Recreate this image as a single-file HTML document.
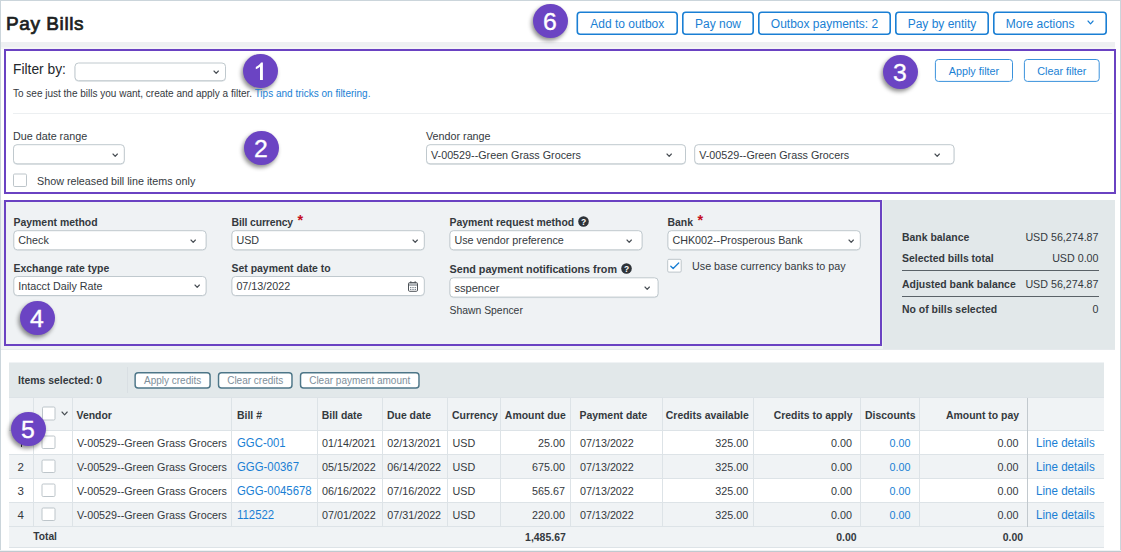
<!DOCTYPE html>
<html><head><meta charset="utf-8"><title>Pay Bills</title><style>
html,body{margin:0;padding:0;background:#fff}
body{width:1121px;height:552px;position:relative;overflow:hidden;font-family:"Liberation Sans", sans-serif}
.a,.t,.circ{position:absolute;box-sizing:content-box}
.t{white-space:nowrap}
.circ{width:35px;height:34.5px;border-radius:50%;background:#6b44c3;color:#fff;font-size:24.8px;line-height:35.8px;text-indent:-1px;-webkit-text-stroke:0.35px #fff;text-align:center;box-shadow:-1.5px 2.5px 4.5px rgba(0,0,0,.45)}
</style></head>
<body>
<div class="a" style="left:0px;top:0px;width:1121px;height:1px;background:#cbd5db;"></div>
<div class="a" style="left:0px;top:0px;width:1px;height:552px;background:#cbd5db;"></div>
<div class="a" style="left:1119.5px;top:0px;width:1.5px;height:552px;background:#cbd5db;"></div>
<div class="a" style="left:0px;top:550px;width:1121px;height:1px;background:#eef1f3;"></div>
<div class="a" style="left:0px;top:551px;width:1121px;height:1px;background:#bfc9cf;"></div>
<div class="t" style="top:9.92px;font-size:19px;line-height:27px;color:#1c1f22;letter-spacing:0.58px;left:6px;-webkit-text-stroke:0.72px #1c1f22;">Pay Bills</div>
<div class="a" style="left:1px;top:42px;width:1114px;height:5px;background:#eef0f2;"></div>
<div class="a" style="left:1px;top:47px;width:1114px;height:2px;background:#f4f5f6;"></div>
<svg class="a" style="left:575px;top:10px" width="104" height="26"><rect x="2.30" y="2.30" width="99.90" height="21.90" rx="3" fill="#fff" stroke="#1a7fd4" stroke-width="1.6" /></svg>
<div class="t" style="top:15.81px;font-size:12px;line-height:17px;color:#1a7fd4;left:527.25px;width:200px;text-align:center;">Add to outbox</div>
<svg class="a" style="left:681px;top:10px" width="74" height="26"><rect x="1.80" y="2.30" width="70.40" height="21.90" rx="3" fill="#fff" stroke="#1a7fd4" stroke-width="1.6" /></svg>
<div class="t" style="top:15.81px;font-size:12px;line-height:17px;color:#1a7fd4;left:618.0px;width:200px;text-align:center;">Pay now</div>
<svg class="a" style="left:757px;top:10px" width="135" height="26"><rect x="1.80" y="2.30" width="131.40" height="21.90" rx="3" fill="#fff" stroke="#1a7fd4" stroke-width="1.6" /></svg>
<div class="t" style="top:15.81px;font-size:12px;line-height:17px;color:#1a7fd4;left:724.5px;width:200px;text-align:center;">Outbox payments: 2</div>
<svg class="a" style="left:894px;top:10px" width="96" height="26"><rect x="1.80" y="2.30" width="92.40" height="21.90" rx="3" fill="#fff" stroke="#1a7fd4" stroke-width="1.6" /></svg>
<div class="t" style="top:15.81px;font-size:12px;line-height:17px;color:#1a7fd4;left:842.0px;width:200px;text-align:center;">Pay by entity</div>
<svg class="a" style="left:992px;top:10px" width="116" height="26"><rect x="1.80" y="2.30" width="112.40" height="21.90" rx="3" fill="#fff" stroke="#1a7fd4" stroke-width="1.6" /></svg>
<div class="t" style="top:15.81px;font-size:12px;line-height:17px;color:#1a7fd4;left:940.2px;width:200px;text-align:center;">More actions</div>
<svg class="a" style="left:1086.85px;top:20.45px" width="7.1" height="4.8" viewBox="-1 -1 7.1 4.8"><path d="M0 0 L2.55 2.8 L5.1 0" fill="none" stroke="#1a7fd4" stroke-width="1.15" stroke-linecap="round" stroke-linejoin="round"/></svg>
<div class="circ" style="left:533.0px;top:3.5px">6</div>
<div class="a" style="left:4px;top:49px;width:1108px;height:141px;border:2px solid #6a42c2;background:#fff"></div>
<div class="t" style="top:60.22px;font-size:13.8px;line-height:19px;color:#24282c;left:13px;">Filter by:</div>
<svg class="a" style="left:73px;top:62px" width="154" height="21"><rect x="2.00" y="1.60" width="150.50" height="17.70" rx="3.5" fill="none" stroke="#dfe4e7" stroke-width="1" /></svg>
<svg class="a" style="left:73px;top:61px" width="154" height="22"><rect x="2.00" y="2.00" width="150.50" height="17.70" rx="3.5" fill="#fff" stroke="#c0c9ce" stroke-width="1" /></svg>
<svg class="a" style="left:213.30px;top:70.30px" width="6.4" height="4.4" viewBox="-1 -1 6.4 4.4"><path d="M0 0 L2.2 2.4 L4.4 0" fill="none" stroke="#474d53" stroke-width="1.15" stroke-linecap="round" stroke-linejoin="round"/></svg>
<div class="circ" style="left:242.8px;top:53.5px"><svg style="position:absolute;left:0;top:0" width="35" height="35" viewBox="0 0 35 35"><path d="M19.9 26.0 H17.0 V12.8 C15.8 13.9 14.3 14.8 12.8 15.3 V13.0 C15.0 12.1 17.1 10.4 18.0 8.6 H19.9 Z" fill="#fff"/></svg></div>
<div class="t" style="top:86.53px;font-size:10px;line-height:14px;color:#34393e;left:13px;">To see just the bills you want, create and apply a filter. <span style="color:#1a7fd4">Tips and tricks on filtering.</span></div>
<div class="circ" style="left:883.0px;top:54.5px">3</div>
<svg class="a" style="left:933px;top:58px" width="81" height="25"><rect x="2.40" y="1.50" width="77.10" height="21.90" rx="3" fill="#fff" stroke="#3a92dc" stroke-width="1.0" /></svg>
<div class="t" style="top:64.00px;font-size:10.8px;line-height:15px;color:#1a7fd4;left:873.95px;width:200px;text-align:center;">Apply filter</div>
<svg class="a" style="left:1022px;top:58px" width="79" height="25"><rect x="2.40" y="1.50" width="74.80" height="21.90" rx="3" fill="#fff" stroke="#3a92dc" stroke-width="1.0" /></svg>
<div class="t" style="top:64.00px;font-size:10.8px;line-height:15px;color:#1a7fd4;left:961.8px;width:200px;text-align:center;">Clear filter</div>
<div class="a" style="left:13px;top:113px;width:1099px;height:1px;background:#eceff1;"></div>
<div class="t" style="top:128.78px;font-size:10.75px;line-height:15px;color:#34393e;left:13px;">Due date range</div>
<svg class="a" style="left:12px;top:143px" width="114" height="23"><rect x="1.50" y="2.30" width="110.80" height="19.10" rx="3.5" fill="none" stroke="#dfe4e7" stroke-width="1" /></svg>
<svg class="a" style="left:12px;top:143px" width="114" height="23"><rect x="1.50" y="1.70" width="110.80" height="19.10" rx="3.5" fill="#fff" stroke="#c0c9ce" stroke-width="1" /></svg>
<svg class="a" style="left:111.80px;top:152.70px" width="6.4" height="4.4" viewBox="-1 -1 6.4 4.4"><path d="M0 0 L2.2 2.4 L4.4 0" fill="none" stroke="#474d53" stroke-width="1.15" stroke-linecap="round" stroke-linejoin="round"/></svg>
<div class="circ" style="left:244.0px;top:130.5px">2</div>
<div class="t" style="top:128.78px;font-size:10.75px;line-height:15px;color:#34393e;left:426px;">Vendor range</div>
<svg class="a" style="left:425px;top:143px" width="262" height="23"><rect x="1.50" y="2.30" width="259.00" height="19.10" rx="3.5" fill="none" stroke="#dfe4e7" stroke-width="1" /></svg>
<svg class="a" style="left:425px;top:143px" width="262" height="23"><rect x="1.50" y="1.70" width="259.00" height="19.10" rx="3.5" fill="#fff" stroke="#c0c9ce" stroke-width="1" /></svg>
<div class="t" style="top:148.10px;font-size:10.75px;line-height:15px;color:#34393e;left:431px;">V-00529--Green Grass Grocers</div>
<svg class="a" style="left:665.80px;top:152.70px" width="6.4" height="4.4" viewBox="-1 -1 6.4 4.4"><path d="M0 0 L2.2 2.4 L4.4 0" fill="none" stroke="#474d53" stroke-width="1.15" stroke-linecap="round" stroke-linejoin="round"/></svg>
<svg class="a" style="left:693px;top:143px" width="263" height="23"><rect x="1.70" y="2.30" width="259.30" height="19.10" rx="3.5" fill="none" stroke="#dfe4e7" stroke-width="1" /></svg>
<svg class="a" style="left:693px;top:143px" width="263" height="23"><rect x="1.70" y="1.70" width="259.30" height="19.10" rx="3.5" fill="#fff" stroke="#c0c9ce" stroke-width="1" /></svg>
<div class="t" style="top:148.10px;font-size:10.75px;line-height:15px;color:#34393e;left:699.2px;">V-00529--Green Grass Grocers</div>
<svg class="a" style="left:933.80px;top:152.70px" width="6.4" height="4.4" viewBox="-1 -1 6.4 4.4"><path d="M0 0 L2.2 2.4 L4.4 0" fill="none" stroke="#474d53" stroke-width="1.15" stroke-linecap="round" stroke-linejoin="round"/></svg>
<svg class="a" style="left:12px;top:172px" width="16" height="16"><rect x="1.50" y="2.00" width="13.00" height="12.50" rx="1.2" fill="#fff" stroke="#bdc5ca" stroke-width="1" /></svg>
<div class="t" style="top:173.58px;font-size:10.75px;line-height:15px;color:#34393e;left:37px;">Show released bill line items only</div>
<div class="a" style="left:1px;top:200px;width:1114px;height:149px;background:#eff2f4;"></div>
<div class="a" style="left:882px;top:200px;width:233px;height:149px;background:#e2e8ea;"></div>
<div class="a" style="left:882px;top:200px;width:1px;height:149px;background:#edf3f1;"></div>
<div class="a" style="left:1px;top:349px;width:1114px;height:1px;background:#e6eaed;"></div>
<div class="a" style="left:4px;top:200px;width:874px;height:142px;border:2px solid #6a42c2;"></div>
<div class="t" style="top:214.63px;font-size:10.45px;line-height:15px;color:#34393e;font-weight:bold;left:13.5px;">Payment method</div>
<div class="t" style="top:214.63px;font-size:10.45px;line-height:15px;color:#34393e;font-weight:bold;letter-spacing:-0.13px;left:231.5px;">Bill currency</div>
<div class="t" style="top:209.88px;font-size:14.5px;line-height:20px;color:#c40d1e;font-weight:bold;left:297.4px;">*</div>
<div class="t" style="top:214.63px;font-size:10.45px;line-height:15px;color:#34393e;font-weight:bold;left:449.5px;">Payment request method</div>
<svg class="a" style="left:578.0px;top:216.1px" width="11" height="11" viewBox="0 0 11 11"><circle cx="5.5" cy="5.5" r="5.3" fill="#2e3338"/><text x="5.5" y="8.6" font-family='"Liberation Sans", sans-serif' font-size="8.5" font-weight="bold" fill="#fff" text-anchor="middle">?</text></svg>
<div class="t" style="top:214.63px;font-size:10.45px;line-height:15px;color:#34393e;font-weight:bold;left:667.5px;">Bank</div>
<div class="t" style="top:209.88px;font-size:14.5px;line-height:20px;color:#c40d1e;font-weight:bold;left:697.5px;">*</div>
<svg class="a" style="left:12px;top:229px" width="196" height="23"><rect x="1.80" y="2.30" width="192.30" height="19.10" rx="3.5" fill="none" stroke="#dfe4e7" stroke-width="1" /></svg>
<svg class="a" style="left:12px;top:229px" width="196" height="23"><rect x="1.80" y="1.70" width="192.30" height="19.10" rx="3.5" fill="#fff" stroke="#c0c9ce" stroke-width="1" /></svg>
<div class="t" style="top:233.20px;font-size:10.75px;line-height:15px;color:#34393e;left:18.3px;">Check</div>
<svg class="a" style="left:190.30px;top:238.70px" width="6.4" height="4.4" viewBox="-1 -1 6.4 4.4"><path d="M0 0 L2.2 2.4 L4.4 0" fill="none" stroke="#474d53" stroke-width="1.15" stroke-linecap="round" stroke-linejoin="round"/></svg>
<svg class="a" style="left:230px;top:229px" width="196" height="23"><rect x="1.90" y="2.30" width="192.40" height="19.10" rx="3.5" fill="none" stroke="#dfe4e7" stroke-width="1" /></svg>
<svg class="a" style="left:230px;top:229px" width="196" height="23"><rect x="1.90" y="1.70" width="192.40" height="19.10" rx="3.5" fill="#fff" stroke="#c0c9ce" stroke-width="1" /></svg>
<div class="t" style="top:233.20px;font-size:10.75px;line-height:15px;color:#34393e;left:236.4px;">USD</div>
<svg class="a" style="left:411.80px;top:238.70px" width="6.4" height="4.4" viewBox="-1 -1 6.4 4.4"><path d="M0 0 L2.2 2.4 L4.4 0" fill="none" stroke="#474d53" stroke-width="1.15" stroke-linecap="round" stroke-linejoin="round"/></svg>
<svg class="a" style="left:448px;top:229px" width="196" height="23"><rect x="1.90" y="2.30" width="192.20" height="19.10" rx="3.5" fill="none" stroke="#dfe4e7" stroke-width="1" /></svg>
<svg class="a" style="left:448px;top:229px" width="196" height="23"><rect x="1.90" y="1.70" width="192.20" height="19.10" rx="3.5" fill="#fff" stroke="#c0c9ce" stroke-width="1" /></svg>
<div class="t" style="top:233.20px;font-size:10.75px;line-height:15px;color:#34393e;left:454.4px;">Use vendor preference</div>
<svg class="a" style="left:626.30px;top:238.70px" width="6.4" height="4.4" viewBox="-1 -1 6.4 4.4"><path d="M0 0 L2.2 2.4 L4.4 0" fill="none" stroke="#474d53" stroke-width="1.15" stroke-linecap="round" stroke-linejoin="round"/></svg>
<svg class="a" style="left:666px;top:229px" width="196" height="23"><rect x="1.90" y="2.30" width="192.40" height="19.10" rx="3.5" fill="none" stroke="#dfe4e7" stroke-width="1" /></svg>
<svg class="a" style="left:666px;top:229px" width="196" height="23"><rect x="1.90" y="1.70" width="192.40" height="19.10" rx="3.5" fill="#fff" stroke="#c0c9ce" stroke-width="1" /></svg>
<div class="t" style="top:233.20px;font-size:10.75px;line-height:15px;color:#34393e;left:672.4px;">CHK002--Prosperous Bank</div>
<svg class="a" style="left:847.80px;top:238.70px" width="6.4" height="4.4" viewBox="-1 -1 6.4 4.4"><path d="M0 0 L2.2 2.4 L4.4 0" fill="none" stroke="#474d53" stroke-width="1.15" stroke-linecap="round" stroke-linejoin="round"/></svg>
<div class="t" style="top:260.63px;font-size:10.45px;line-height:15px;color:#34393e;font-weight:bold;left:13.5px;">Exchange rate type</div>
<div class="t" style="top:260.63px;font-size:10.45px;line-height:15px;color:#34393e;font-weight:bold;left:231.5px;">Set payment date to</div>
<div class="t" style="top:261.77px;font-size:10.77px;line-height:15px;color:#34393e;font-weight:bold;left:449.5px;">Send payment notifications from</div>
<svg class="a" style="left:621.0px;top:263.25px" width="11" height="11" viewBox="0 0 11 11"><circle cx="5.5" cy="5.5" r="5.3" fill="#2e3338"/><text x="5.5" y="8.6" font-family='"Liberation Sans", sans-serif' font-size="8.5" font-weight="bold" fill="#fff" text-anchor="middle">?</text></svg>
<svg class="a" style="left:12px;top:275px" width="196" height="23"><rect x="1.80" y="2.10" width="192.30" height="19.00" rx="3.5" fill="none" stroke="#dfe4e7" stroke-width="1" /></svg>
<svg class="a" style="left:12px;top:275px" width="196" height="22"><rect x="1.80" y="1.50" width="192.30" height="19.00" rx="3.5" fill="#fff" stroke="#c0c9ce" stroke-width="1" /></svg>
<div class="t" style="top:278.95px;font-size:10.75px;line-height:15px;color:#34393e;left:18.3px;">Intacct Daily Rate</div>
<svg class="a" style="left:193.50px;top:284.45px" width="6.4" height="4.4" viewBox="-1 -1 6.4 4.4"><path d="M0 0 L2.2 2.4 L4.4 0" fill="none" stroke="#474d53" stroke-width="1.15" stroke-linecap="round" stroke-linejoin="round"/></svg>
<svg class="a" style="left:230px;top:275px" width="196" height="23"><rect x="1.90" y="2.10" width="192.40" height="19.00" rx="3.5" fill="none" stroke="#dfe4e7" stroke-width="1" /></svg>
<svg class="a" style="left:230px;top:275px" width="196" height="22"><rect x="1.90" y="1.50" width="192.40" height="19.00" rx="3.5" fill="#fff" stroke="#c0c9ce" stroke-width="1" /></svg>
<div class="t" style="top:278.95px;font-size:10.75px;line-height:15px;color:#34393e;left:236.4px;">07/13/2022</div>
<svg class="a" style="left:407px;top:280px" width="12" height="13" viewBox="0 0 12 13"><rect x="1.5" y="2.6" width="9" height="8.7" rx="1.1" fill="#fff" stroke="#4d5257" stroke-width="1"/><rect x="2" y="3.1" width="8" height="2.9" fill="#aeb3b7"/><rect x="3.3" y="1.3" width="1.1" height="1.8" fill="#4d5257"/><rect x="7.6" y="1.3" width="1.1" height="1.8" fill="#4d5257"/><g fill="#5f6b78"><rect x="3.2" y="7" width="1.1" height="1.1"/><rect x="5.45" y="7" width="1.1" height="1.1"/><rect x="7.7" y="7" width="1.1" height="1.1"/><rect x="3.2" y="8.9" width="1.1" height="1.1"/><rect x="5.45" y="8.9" width="1.1" height="1.1"/><rect x="7.7" y="8.9" width="1.1" height="1.1"/></g></svg>
<svg class="a" style="left:448px;top:276px" width="212" height="24"><rect x="1.90" y="2.40" width="208.20" height="19.30" rx="3.5" fill="none" stroke="#dfe4e7" stroke-width="1" /></svg>
<svg class="a" style="left:448px;top:276px" width="212" height="23"><rect x="1.90" y="1.80" width="208.20" height="19.30" rx="3.5" fill="#fff" stroke="#c0c9ce" stroke-width="1" /></svg>
<svg class="a" style="left:644.30px;top:285.90px" width="6.4" height="4.4" viewBox="-1 -1 6.4 4.4"><path d="M0 0 L2.2 2.4 L4.4 0" fill="none" stroke="#474d53" stroke-width="1.15" stroke-linecap="round" stroke-linejoin="round"/></svg>
<div class="t" style="top:280.45px;font-size:11.1px;line-height:16px;color:#34393e;left:454.4px;">sspencer</div>
<div class="t" style="top:303.20px;font-size:10.4px;line-height:15px;color:#34393e;left:449.5px;">Shawn Spencer</div>
<svg class="a" style="left:666px;top:257px" width="17" height="17"><rect x="1.70" y="2.30" width="13.50" height="12.80" rx="1.2" fill="#fff" stroke="#bdc5ca" stroke-width="1" /></svg>
<svg class="a" style="left:667.2px;top:258.8px" width="14.5" height="13.800000000000011" viewBox="0 0 14 14"><path d="M3.5 7.3 L5.9 9.7 L11.5 4" fill="none" stroke="#1a7fd4" stroke-width="1.35" stroke-linecap="round" stroke-linejoin="round"/></svg>
<div class="t" style="top:259.18px;font-size:10.75px;line-height:15px;color:#34393e;left:692px;">Use base currency banks to pay</div>
<div class="circ" style="left:20.0px;top:300.5px">4</div>
<div class="t" style="top:229.63px;font-size:10.45px;line-height:15px;color:#34393e;font-weight:bold;left:902px;">Bank balance</div>
<div class="t" style="top:229.79px;font-size:10.7px;line-height:15px;color:#34393e;right:22.5px;">USD 56,274.87</div>
<div class="t" style="top:250.63px;font-size:10.45px;line-height:15px;color:#34393e;font-weight:bold;left:902px;">Selected bills total</div>
<div class="t" style="top:250.79px;font-size:10.7px;line-height:15px;color:#34393e;right:22.5px;">USD 0.00</div>
<div class="a" style="left:902px;top:270px;width:197px;height:1px;background:#5a6268;"></div>
<div class="t" style="top:276.78px;font-size:10.45px;line-height:15px;color:#34393e;font-weight:bold;left:902px;">Adjusted bank balance</div>
<div class="t" style="top:276.54px;font-size:10.7px;line-height:15px;color:#34393e;right:22.5px;">USD 56,274.87</div>
<div class="a" style="left:902px;top:295.75px;width:197px;height:1.0px;background:#5a6268;"></div>
<div class="t" style="top:301.63px;font-size:10.45px;line-height:15px;color:#34393e;font-weight:bold;left:902px;">No of bills selected</div>
<div class="t" style="top:302.29px;font-size:10.7px;line-height:15px;color:#34393e;right:22.5px;">0</div>
<div class="a" style="left:9px;top:362px;width:1094.5px;height:1px;background:#f0f3f5;"></div>
<div class="a" style="left:9px;top:363px;width:1094.5px;height:34.5px;background:#e2e8ea;"></div>
<div class="a" style="left:9px;top:397.5px;width:1094.5px;height:33.0px;background:#f0f3f5;"></div>
<div class="a" style="left:9px;top:430.5px;width:1094.5px;height:24.0px;background:#fff;"></div>
<div class="a" style="left:9px;top:454.5px;width:1094.5px;height:24.0px;background:#f0f3f5;"></div>
<div class="a" style="left:9px;top:478.5px;width:1094.5px;height:24.0px;background:#fff;"></div>
<div class="a" style="left:9px;top:502.5px;width:1094.5px;height:24.0px;background:#f0f3f5;"></div>
<div class="a" style="left:9px;top:526.5px;width:1094.5px;height:21.0px;background:#f0f3f5;"></div>
<div class="a" style="left:9px;top:397.0px;width:1094.5px;height:1.0px;background:#dde3e7;"></div>
<div class="a" style="left:9px;top:430.0px;width:1094.5px;height:1.0px;background:#dde3e7;"></div>
<div class="a" style="left:9px;top:454.0px;width:1094.5px;height:1.0px;background:#dde3e7;"></div>
<div class="a" style="left:9px;top:478.0px;width:1094.5px;height:1.0px;background:#dde3e7;"></div>
<div class="a" style="left:9px;top:502.0px;width:1094.5px;height:1.0px;background:#dde3e7;"></div>
<div class="a" style="left:9px;top:526.0px;width:1094.5px;height:1.0px;background:#dde3e7;"></div>
<div class="a" style="left:9px;top:547.0px;width:1094.5px;height:1.0px;background:#dde3e7;"></div>
<div class="a" style="left:32.5px;top:397.5px;width:1.0px;height:129.0px;background:#dde3e7;"></div>
<div class="a" style="left:71.5px;top:397.5px;width:1.0px;height:129.0px;background:#dde3e7;"></div>
<div class="a" style="left:231.0px;top:397.5px;width:1.0px;height:129.0px;background:#dde3e7;"></div>
<div class="a" style="left:317.0px;top:397.5px;width:1.0px;height:129.0px;background:#dde3e7;"></div>
<div class="a" style="left:381.5px;top:397.5px;width:1.0px;height:129.0px;background:#dde3e7;"></div>
<div class="a" style="left:447.0px;top:397.5px;width:1.0px;height:129.0px;background:#dde3e7;"></div>
<div class="a" style="left:500.0px;top:397.5px;width:1.0px;height:129.0px;background:#dde3e7;"></div>
<div class="a" style="left:570.25px;top:397.5px;width:1.0px;height:129.0px;background:#dde3e7;"></div>
<div class="a" style="left:661.5px;top:397.5px;width:1.0px;height:129.0px;background:#dde3e7;"></div>
<div class="a" style="left:753.25px;top:397.5px;width:1.0px;height:129.0px;background:#dde3e7;"></div>
<div class="a" style="left:860.0px;top:397.5px;width:1.0px;height:129.0px;background:#dde3e7;"></div>
<div class="a" style="left:919.25px;top:397.5px;width:1.0px;height:129.0px;background:#dde3e7;"></div>
<div class="a" style="left:1027.0px;top:397.5px;width:1.0px;height:129.0px;background:#c2c9ce;"></div>
<div class="t" style="top:372.63px;font-size:10.45px;line-height:15px;color:#34393e;font-weight:bold;left:18px;">Items selected: 0</div>
<div class="a" style="left:127px;top:367px;width:1px;height:26px;background:#d9dfe3;"></div>
<svg class="a" style="left:133px;top:371px" width="79" height="19"><rect x="2.13" y="1.73" width="74.95" height="15.35" rx="3" fill="#fff" stroke="#4d7688" stroke-width="1.45" /></svg>
<div class="t" style="top:374.44px;font-size:10px;line-height:14px;color:#7e8f9b;left:72.60000000000002px;width:200px;text-align:center;">Apply credits</div>
<svg class="a" style="left:216px;top:371px" width="78" height="19"><rect x="2.53" y="1.73" width="73.45" height="15.35" rx="3" fill="#fff" stroke="#4d7688" stroke-width="1.45" /></svg>
<div class="t" style="top:374.44px;font-size:10px;line-height:14px;color:#7e8f9b;left:155.25px;width:200px;text-align:center;">Clear credits</div>
<svg class="a" style="left:298px;top:371px" width="123" height="19"><rect x="2.53" y="1.73" width="118.45" height="15.35" rx="3" fill="#fff" stroke="#4d7688" stroke-width="1.45" /></svg>
<div class="t" style="top:374.44px;font-size:10px;line-height:14px;color:#7e8f9b;left:259.75px;width:200px;text-align:center;">Clear payment amount</div>
<svg class="a" style="left:41px;top:405px" width="16" height="17"><rect x="1.50" y="2.00" width="12.50" height="13.00" rx="1.2" fill="#fff" stroke="#bdc5ca" stroke-width="1" /></svg>
<svg class="a" style="left:61.40px;top:411.20px" width="7.2" height="4.8" viewBox="-1 -1 7.2 4.8"><path d="M0 0 L2.6 2.8 L5.2 0" fill="none" stroke="#474d53" stroke-width="1.15" stroke-linecap="round" stroke-linejoin="round"/></svg>
<div class="t" style="top:407.58px;font-size:10.45px;line-height:15px;color:#34393e;font-weight:bold;left:76.5px;">Vendor</div>
<div class="t" style="top:407.58px;font-size:10.45px;line-height:15px;color:#34393e;font-weight:bold;left:237px;">Bill #</div>
<div class="t" style="top:407.58px;font-size:10.45px;line-height:15px;color:#34393e;font-weight:bold;left:321.75px;">Bill date</div>
<div class="t" style="top:407.58px;font-size:10.45px;line-height:15px;color:#34393e;font-weight:bold;left:387px;">Due date</div>
<div class="t" style="top:407.58px;font-size:10.45px;line-height:15px;color:#34393e;font-weight:bold;left:452px;">Currency</div>
<div class="t" style="top:407.58px;font-size:10.45px;line-height:15px;color:#34393e;font-weight:bold;right:555.25px;">Amount due</div>
<div class="t" style="top:407.58px;font-size:10.45px;line-height:15px;color:#34393e;font-weight:bold;left:579.5px;">Payment date</div>
<div class="t" style="top:407.58px;font-size:10.45px;line-height:15px;color:#34393e;font-weight:bold;right:372.25px;">Credits available</div>
<div class="t" style="top:407.58px;font-size:10.45px;line-height:15px;color:#34393e;font-weight:bold;right:268.5px;">Credits to apply</div>
<div class="t" style="top:407.58px;font-size:10.45px;line-height:15px;color:#34393e;font-weight:bold;right:205.5px;">Discounts</div>
<div class="t" style="top:407.58px;font-size:10.45px;line-height:15px;color:#34393e;font-weight:bold;right:102px;">Amount to pay</div>
<div class="a" style="left:20.6px;top:439px;width:1.1999999999999993px;height:8.300000000000011px;background:#34393e;"></div>
<svg class="a" style="left:40px;top:434px" width="17" height="16"><rect x="2.00" y="2.00" width="13.00" height="12.50" rx="1.2" fill="#fff" stroke="#bdc5ca" stroke-width="1" /></svg>
<div class="t" style="top:435.88px;font-size:10.75px;line-height:15px;color:#34393e;left:77px;">V-00529--Green Grass Grocers</div>
<div class="t" style="top:435.44px;font-size:12.3px;line-height:17px;color:#1a7fd4;transform:scaleX(0.925);transform-origin:left center;left:236.5px;">GGC-001</div>
<div class="t" style="top:435.88px;font-size:10.75px;line-height:15px;color:#34393e;left:322px;">01/14/2021</div>
<div class="t" style="top:435.88px;font-size:10.75px;line-height:15px;color:#34393e;left:387.3px;">02/13/2021</div>
<div class="t" style="top:435.88px;font-size:10.75px;line-height:15px;color:#34393e;left:452.5px;">USD</div>
<div class="t" style="top:435.88px;font-size:10.75px;line-height:15px;color:#34393e;right:556px;">25.00</div>
<div class="t" style="top:435.88px;font-size:10.75px;line-height:15px;color:#34393e;left:580px;">07/13/2022</div>
<div class="t" style="top:435.88px;font-size:10.75px;line-height:15px;color:#34393e;right:372.75px;">325.00</div>
<div class="t" style="top:435.88px;font-size:10.75px;line-height:15px;color:#34393e;right:269px;">0.00</div>
<div class="t" style="top:435.88px;font-size:10.75px;line-height:15px;color:#1a7fd4;right:210.5px;">0.00</div>
<div class="t" style="top:435.88px;font-size:10.75px;line-height:15px;color:#34393e;right:102.5px;">0.00</div>
<div class="t" style="top:435.47px;font-size:12.2px;line-height:17px;color:#1a7fd4;transform:scaleX(0.952);transform-origin:left center;left:1036.4px;">Line details</div>
<div class="t" style="top:459.42px;font-size:11.5px;line-height:16px;color:#34393e;left:-79.2px;width:200px;text-align:center;">2</div>
<svg class="a" style="left:40px;top:458px" width="17" height="16"><rect x="2.00" y="2.00" width="13.00" height="12.50" rx="1.2" fill="#fff" stroke="#bdc5ca" stroke-width="1" /></svg>
<div class="t" style="top:459.88px;font-size:10.75px;line-height:15px;color:#34393e;left:77px;">V-00529--Green Grass Grocers</div>
<div class="t" style="top:459.44px;font-size:12.3px;line-height:17px;color:#1a7fd4;transform:scaleX(0.925);transform-origin:left center;left:236.5px;">GGG-00367</div>
<div class="t" style="top:459.88px;font-size:10.75px;line-height:15px;color:#34393e;left:322px;">05/15/2022</div>
<div class="t" style="top:459.88px;font-size:10.75px;line-height:15px;color:#34393e;left:387.3px;">06/14/2022</div>
<div class="t" style="top:459.88px;font-size:10.75px;line-height:15px;color:#34393e;left:452.5px;">USD</div>
<div class="t" style="top:459.88px;font-size:10.75px;line-height:15px;color:#34393e;right:556px;">675.00</div>
<div class="t" style="top:459.88px;font-size:10.75px;line-height:15px;color:#34393e;left:580px;">07/13/2022</div>
<div class="t" style="top:459.88px;font-size:10.75px;line-height:15px;color:#34393e;right:372.75px;">325.00</div>
<div class="t" style="top:459.88px;font-size:10.75px;line-height:15px;color:#34393e;right:269px;">0.00</div>
<div class="t" style="top:459.88px;font-size:10.75px;line-height:15px;color:#1a7fd4;right:210.5px;">0.00</div>
<div class="t" style="top:459.88px;font-size:10.75px;line-height:15px;color:#34393e;right:102.5px;">0.00</div>
<div class="t" style="top:459.47px;font-size:12.2px;line-height:17px;color:#1a7fd4;transform:scaleX(0.952);transform-origin:left center;left:1036.4px;">Line details</div>
<div class="t" style="top:483.42px;font-size:11.5px;line-height:16px;color:#34393e;left:-79.2px;width:200px;text-align:center;">3</div>
<svg class="a" style="left:40px;top:482px" width="17" height="16"><rect x="2.00" y="2.00" width="13.00" height="12.50" rx="1.2" fill="#fff" stroke="#bdc5ca" stroke-width="1" /></svg>
<div class="t" style="top:483.88px;font-size:10.75px;line-height:15px;color:#34393e;left:77px;">V-00529--Green Grass Grocers</div>
<div class="t" style="top:483.44px;font-size:12.3px;line-height:17px;color:#1a7fd4;transform:scaleX(0.925);transform-origin:left center;left:236.5px;">GGG-0045678</div>
<div class="t" style="top:483.88px;font-size:10.75px;line-height:15px;color:#34393e;left:322px;">06/16/2022</div>
<div class="t" style="top:483.88px;font-size:10.75px;line-height:15px;color:#34393e;left:387.3px;">07/16/2022</div>
<div class="t" style="top:483.88px;font-size:10.75px;line-height:15px;color:#34393e;left:452.5px;">USD</div>
<div class="t" style="top:483.88px;font-size:10.75px;line-height:15px;color:#34393e;right:556px;">565.67</div>
<div class="t" style="top:483.88px;font-size:10.75px;line-height:15px;color:#34393e;left:580px;">07/13/2022</div>
<div class="t" style="top:483.88px;font-size:10.75px;line-height:15px;color:#34393e;right:372.75px;">325.00</div>
<div class="t" style="top:483.88px;font-size:10.75px;line-height:15px;color:#34393e;right:269px;">0.00</div>
<div class="t" style="top:483.88px;font-size:10.75px;line-height:15px;color:#1a7fd4;right:210.5px;">0.00</div>
<div class="t" style="top:483.88px;font-size:10.75px;line-height:15px;color:#34393e;right:102.5px;">0.00</div>
<div class="t" style="top:483.47px;font-size:12.2px;line-height:17px;color:#1a7fd4;transform:scaleX(0.952);transform-origin:left center;left:1036.4px;">Line details</div>
<div class="t" style="top:507.42px;font-size:11.5px;line-height:16px;color:#34393e;left:-79.2px;width:200px;text-align:center;">4</div>
<svg class="a" style="left:40px;top:506px" width="17" height="16"><rect x="2.00" y="2.00" width="13.00" height="12.50" rx="1.2" fill="#fff" stroke="#bdc5ca" stroke-width="1" /></svg>
<div class="t" style="top:507.88px;font-size:10.75px;line-height:15px;color:#34393e;left:77px;">V-00529--Green Grass Grocers</div>
<div class="t" style="top:507.44px;font-size:12.3px;line-height:17px;color:#1a7fd4;transform:scaleX(0.925);transform-origin:left center;left:236.5px;">112522</div>
<div class="t" style="top:507.88px;font-size:10.75px;line-height:15px;color:#34393e;left:322px;">07/01/2022</div>
<div class="t" style="top:507.88px;font-size:10.75px;line-height:15px;color:#34393e;left:387.3px;">07/31/2022</div>
<div class="t" style="top:507.88px;font-size:10.75px;line-height:15px;color:#34393e;left:452.5px;">USD</div>
<div class="t" style="top:507.88px;font-size:10.75px;line-height:15px;color:#34393e;right:556px;">220.00</div>
<div class="t" style="top:507.88px;font-size:10.75px;line-height:15px;color:#34393e;left:580px;">07/13/2022</div>
<div class="t" style="top:507.88px;font-size:10.75px;line-height:15px;color:#34393e;right:372.75px;">325.00</div>
<div class="t" style="top:507.88px;font-size:10.75px;line-height:15px;color:#34393e;right:269px;">0.00</div>
<div class="t" style="top:507.88px;font-size:10.75px;line-height:15px;color:#1a7fd4;right:210.5px;">0.00</div>
<div class="t" style="top:507.88px;font-size:10.75px;line-height:15px;color:#34393e;right:102.5px;">0.00</div>
<div class="t" style="top:507.47px;font-size:12.2px;line-height:17px;color:#1a7fd4;transform:scaleX(0.952);transform-origin:left center;left:1036.4px;">Line details</div>
<div class="circ" style="left:10.899999999999999px;top:411.6px">5</div>
<div class="t" style="top:530.37px;font-size:10.2px;line-height:14px;color:#34393e;font-weight:bold;left:33.3px;">Total</div>
<div class="t" style="top:529.78px;font-size:10.45px;line-height:15px;color:#34393e;font-weight:bold;right:555.25px;">1,485.67</div>
<div class="t" style="top:529.78px;font-size:10.45px;line-height:15px;color:#34393e;font-weight:bold;right:264.5px;">0.00</div>
<div class="t" style="top:529.78px;font-size:10.45px;line-height:15px;color:#34393e;font-weight:bold;right:98px;">0.00</div>
</body></html>
